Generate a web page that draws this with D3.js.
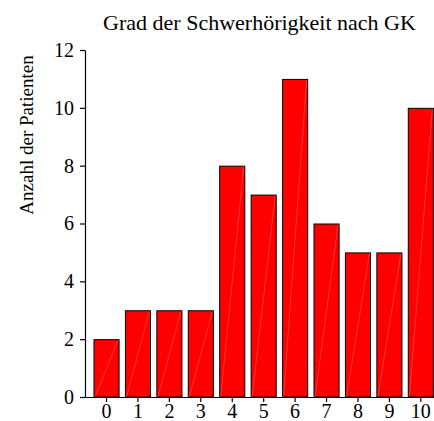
<!DOCTYPE html>
<html>
<head>
<meta charset="utf-8">
<script src="https://cdn.jsdelivr.net/npm/d3@7"></script>
<style>
  body { margin: 0; background: #fff; }
  svg { display: block; font-family: 'Liberation Serif', 'Times New Roman', serif; }
</style>
</head>
<body>
<div id="chart"></div>
<script>
const width = 434
const height = 421
const margin = { top: 50, right: 0, bottom: 24, left: 85 }

const grades = ['0', '1', '2', '3', '4', '5', '6', '7', '8', '9', '10']
const patients = [2, 3, 3, 3, 8, 7, 11, 6, 5, 5, 10]
const yTicks = [0, 2, 4, 6, 8, 10, 12]

const title = 'Grad der Schwerhörigkeit nach GK'
const yTitle = 'Anzahl der Patienten'

const svg = d3.select('#chart')
  .append('svg')
  .attr('width', width)
  .attr('height', height)

const x = d3.scaleBand()
  .domain(grades)
  .range([margin.left, margin.left + 31.43 * (grades.length - 0.17 + 2 * 0.27)])
  .paddingInner(0.17)
  .paddingOuter(0.27)

const y = d3.scaleLinear()
  .domain([0, 12])
  .range([height - margin.bottom, margin.top])

// bars
const bars = svg.append('g')
  .selectAll('g')
  .data(patients)
  .enter()
  .append('g')

bars.append('rect')
  .attr('x', (d, i) => x(grades[i]) + 0.5)
  .attr('y', (d) => y(d) + 0.5)
  .attr('width', x.bandwidth() - 1)
  .attr('height', (d) => y(0) - y(d) - 0.5)
  .attr('fill', '#ff0000')
  .attr('stroke', '#000')
  .attr('stroke-width', 1)

// faint diagonal seam seen in the original rendering
bars.append('line')
  .attr('x1', (d, i) => x(grades[i]) + 1.5)
  .attr('y1', y(0))
  .attr('x2', (d, i) => x(grades[i]) + x.bandwidth() - 1.5)
  .attr('y2', (d) => y(d) + 1)
  .attr('stroke', 'rgba(255,200,200,0.45)')
  .attr('stroke-width', 0.6)

// y axis
const yAxis = svg.append('g')
  .attr('transform', `translate(${margin.left},0)`)
  .call(d3.axisLeft(y).tickValues(yTicks).tickSize(5).tickSizeOuter(0).tickPadding(6))
yAxis.select('.domain').attr('stroke', '#000').attr('stroke-width', 1.2)
yAxis.selectAll('.tick line').attr('stroke-width', 1.2)
yAxis.selectAll('text')
  .attr('font-family', 'Liberation Serif')
  .attr('font-size', 20)
  .attr('fill', '#000')

// x axis
const xAxis = svg.append('g')
  .attr('transform', `translate(0,${y(0)})`)
  .call(d3.axisBottom(x).tickSize(5).tickSizeOuter(0).tickPadding(2))
xAxis.select('.domain').attr('stroke', '#000').attr('stroke-width', 1.2)
xAxis.selectAll('.tick line').attr('stroke-width', 1.2)
xAxis.selectAll('text')
  .attr('font-family', 'Liberation Serif')
  .attr('font-size', 20)
  .attr('fill', '#000')

// titles
svg.append('text')
  .attr('x', (margin.left + width) / 2)
  .attr('y', 30)
  .attr('text-anchor', 'middle')
  .attr('font-size', 22)
  .text(title)

svg.append('text')
  .attr('transform', 'translate(33,135) rotate(-90)')
  .attr('text-anchor', 'middle')
  .attr('font-size', 19)
  .text(yTitle)
</script>
</body>
</html>
